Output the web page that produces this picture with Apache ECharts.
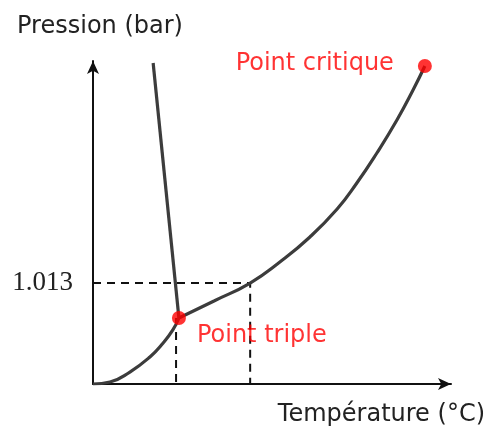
<!DOCTYPE html>
<html>
<head>
<meta charset="utf-8">
<script src="https://cdn.jsdelivr.net/npm/echarts@6/dist/echarts.min.js"></script>
<style>
  html, body { margin: 0; padding: 0; background: #fff; }
  #diagram { width: 489px; height: 430px; }
</style>
</head>
<body>
<div id="diagram"></div>
<script>
// courbes du diagramme de phase (unités arbitraires en x, bar en y)
const sublimation = [[0, 0], [4.75, 0.02], [10.3, 0.12], [15.9, 0.271], [19.6, 0.411], [22.3, 0.542], [24.0, 0.662]];
const vaporisation = [[24.0, 0.662], [33.8, 0.833], [43.9, 1.013], [52.2, 1.224], [60.6, 1.475], [68.2, 1.755], [73.7, 2.016], [79.3, 2.317], [84.9, 2.648], [89.4, 2.949], [92.7, 3.19]];
const fusion = [[24.0, 0.662], [16.8, 3.22]];
const pointTriple = [24.0, 0.662];
const pointCritique = [92.7, 3.19];
const pressionRef = 1.013;
const tempEbullition = 43.9;
const tempTriple = 23.2;
const yTicks = [1.013];

const txtFont = "DejaVu Sans";
const red = "#ff0000";
const curve = "#3c3c3c";

let myChart = echarts.init(document.getElementById("diagram"));
myChart.setOption({
  animation: false,
  grid: { left: 93, right: 38, top: 61, bottom: 46 },
  xAxis: {
    type: "value",
    min: 0,
    max: 100,
    name: "Température (°C)",
    nameLocation: "end",
    nameGap: 34,
    nameTextStyle: {
      fontFamily: txtFont, fontSize: 24, color: "#222",
      align: "right", verticalAlign: "top", padding: [19, 0, 0, 0],
    },
    axisLine: {
      lineStyle: { color: "#111", width: 2 },
      symbol: ["none", "arrow"],
      symbolSize: [9, 13],
    },
    axisTick: { show: false },
    axisLabel: { show: false },
    splitLine: { show: false },
  },
  yAxis: {
    type: "value",
    min: 0,
    max: 3.24,
    interval: 1.013,
    name: "Pression (bar)",
    nameLocation: "end",
    nameGap: 22,
    nameTextStyle: { fontFamily: txtFont, fontSize: 24, color: "#222", padding: [0, 0, 0, 14] },
    axisLine: {
      show: true,
      lineStyle: { color: "#111", width: 2 },
      symbol: ["none", "arrow"],
      symbolSize: [9, 13],
    },
    axisTick: { show: false },
    axisLabel: {
      margin: 20,
      fontFamily: "Liberation Serif",
      fontSize: 27,
      color: "#222",
      formatter: (v) => (yTicks.some((t) => Math.abs(t - v) < 1e-6) ? v.toFixed(3) : ""),
    },
    splitLine: { show: false },
  },
  series: [
    {
      type: "line",
      data: [[0, pressionRef], [tempEbullition, pressionRef], [tempEbullition, 0]],
      showSymbol: false,
      lineStyle: { color: "#111", width: 2, type: [8, 6] },
      z: 1,
    },
    {
      type: "line",
      data: [[tempTriple, pointTriple[1]], [tempTriple, 0]],
      showSymbol: false,
      lineStyle: { color: "#111", width: 2, type: [8, 6] },
      z: 1,
    },
    {
      type: "line",
      data: sublimation,
      smooth: 0.5,
      showSymbol: false,
      lineStyle: { color: curve, width: 3.2 },
      z: 2,
    },
    {
      type: "line",
      data: vaporisation,
      smooth: 0.5,
      showSymbol: false,
      lineStyle: { color: curve, width: 3.2 },
      z: 2,
    },
    {
      type: "line",
      data: fusion,
      showSymbol: false,
      lineStyle: { color: curve, width: 3.2 },
      z: 2,
    },
    {
      type: "scatter",
      data: [pointTriple],
      symbolSize: 14,
      itemStyle: { color: red },
      label: {
        show: true,
        formatter: "Point triple",
        position: "right",
        distance: 11,
        offset: [0, 18],
        fontFamily: txtFont,
        fontSize: 24,
        color: red,
      },
      z: 3,
    },
    {
      type: "scatter",
      data: [pointCritique],
      symbolSize: 14,
      itemStyle: { color: red },
      label: {
        show: true,
        formatter: "Point critique",
        position: "left",
        distance: 24,
        offset: [0, -2],
        fontFamily: txtFont,
        fontSize: 24,
        color: red,
      },
      z: 3,
    },
  ],
});
</script>
</body>
</html>
